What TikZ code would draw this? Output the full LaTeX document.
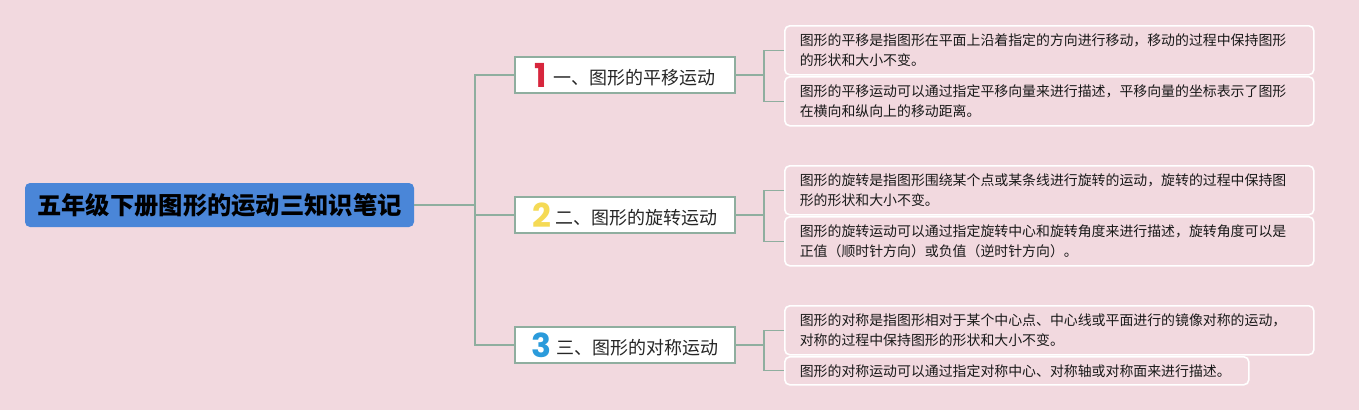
\documentclass[tikz,border=0pt]{standalone}
\usepackage{fontspec}
\setmainfont{Noto Sans CJK SC}
\newfontfamily\cjk{Noto Sans CJK SC}
\newfontfamily\numfont{Poppins}
\definecolor{bgc}{HTML}{F2D9DF}
\definecolor{rootc}{HTML}{4A86D8}
\definecolor{linec}{HTML}{8FAE9F}
\definecolor{numred}{HTML}{D7263D}
\definecolor{numyel}{HTML}{F5DA55}
\definecolor{numblu}{HTML}{2B9BDB}
\newcommand{\bignum}[2]{\raisebox{-0.14em}{\numfont\bfseries\fontsize{33}{33}\selectfont\color{#1}#2}}
\tikzset{
  rootbox/.style={fill=rootc, draw=none, rounded corners=5pt, minimum width=389pt, minimum height=44pt, inner sep=0pt, font=\cjk\bfseries\fontsize{24.3}{28}\selectfont, text=black},
  branchbox/.style={fill=white, draw=linec, line width=1.2pt, minimum width=220pt, minimum height=36pt, inner sep=0pt, font=\cjk\fontsize{18}{20}\selectfont, text=black!85},
  leafbox/.style={fill=bgc, draw=white, line width=1.6pt, rounded corners=5pt, anchor=north west, inner xsep=15pt, inner ysep=0pt, align=left, font=\cjk\fontsize{13.9}{19.5}\selectfont, text=black!90},
  conn/.style={draw=linec, line width=1.3pt}
}
\begin{document}
\begin{tikzpicture}[x=1pt,y=-1pt]
\useasboundingbox[fill=bgc] (0,0) rectangle (1359,410);
\node[rootbox] (root) at (219.5,205) {五年级下册图形的运动三知识笔记};
\node[branchbox] (b1) at (625,75) {\bignum{numred}{1}\hspace{6pt}一、图形的平移运动};
\node[branchbox] (b2) at (625,215) {\bignum{numyel}{2}\hspace{5pt}二、图形的旋转运动};
\node[branchbox] (b3) at (625,345) {\bignum{numblu}{3}\hspace{5pt}三、图形的对称运动};
\node[leafbox, text width=499pt, minimum height=49pt] (l1a) at (784,25) {图形的平移是指图形在平面上沿着指定的方向进行移动，移动的过程中保持图形\\的形状和大小不变。};
\node[leafbox, text width=499pt, minimum height=49pt] (l1b) at (784,76) {图形的平移运动可以通过指定平移向量来进行描述，平移向量的坐标表示了图形\\在横向和纵向上的移动距离。};
\node[leafbox, text width=499pt, minimum height=49pt] (l2a) at (784,165) {图形的旋转是指图形围绕某个点或某条线进行旋转的运动，旋转的过程中保持图\\形的形状和大小不变。};
\node[leafbox, text width=499pt, minimum height=49pt] (l2b) at (784,216) {图形的旋转运动可以通过指定旋转中心和旋转角度来进行描述，旋转角度可以是\\正值（顺时针方向）或负值（逆时针方向）。};
\node[leafbox, text width=499pt, minimum height=49pt] (l3a) at (784,305) {图形的对称是指图形相对于某个中心点、中心线或平面进行的镜像对称的运动，\\对称的过程中保持图形的形状和大小不变。};
\node[leafbox, text width=434pt, minimum height=28pt] (l3b) at (784,356) {图形的对称运动可以通过指定对称中心、对称轴或对称面来进行描述。};
% trunk
\coordinate (t) at (475,205);
\draw[conn] (root.east) -- (t);
\draw[conn] (b1.west) -| (t) |- (b3.west);
\draw[conn] (t) |- (b2.west);
% forks
\coordinate (f1) at (764,75);
\coordinate (f2) at (764,215);
\coordinate (f3) at (764,345);
\draw[conn] (b1.east) -- (f1);
\draw[conn] (l1a.west) -| (f1) |- (l1b.west);
\draw[conn] (b2.east) -- (f2);
\draw[conn] (l2a.west) -| (f2) |- (l2b.west);
\draw[conn] (b3.east) -- (f3);
\draw[conn] (l3a.west) -| (f3) |- (l3b.west);
\end{tikzpicture}
\end{document}
